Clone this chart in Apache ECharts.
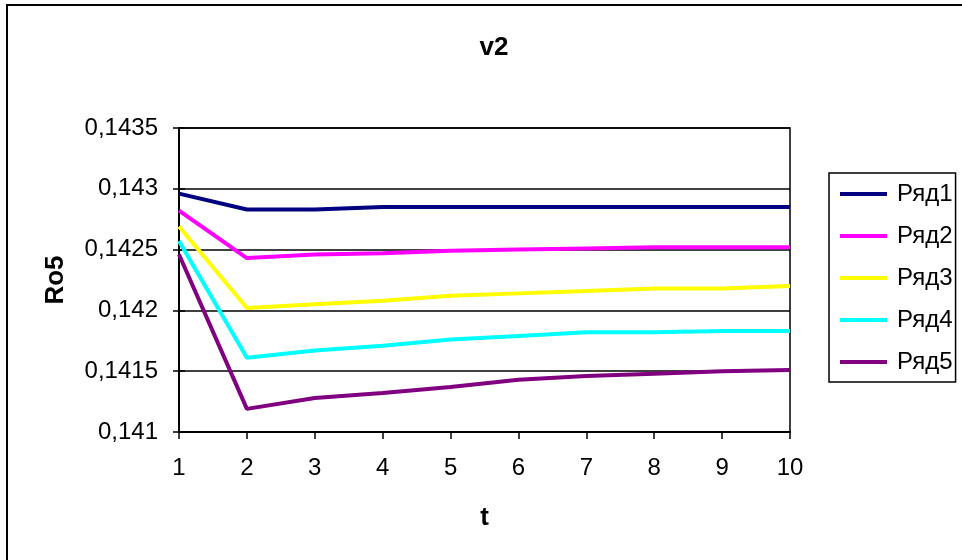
<!DOCTYPE html>
<html>
<head>
<meta charset="utf-8">
<script src="https://cdn.jsdelivr.net/npm/echarts@6/dist/echarts.min.js"></script>
<style>
html,body{margin:0;padding:0;background:#fff;}
#c{width:962px;height:560px;}
</style>
</head>
<body>
<div id="c"></div>
<script>
const categories = ['1','2','3','4','5','6','7','8','9','10'];
const seriesNames = ['Ряд1','Ряд2','Ряд3','Ряд4','Ряд5'];
const ryad1 = [0.14296,0.14283,0.14283,0.14285,0.14285,0.14285,0.14285,0.14285,0.14285,0.14285];
const ryad2 = [0.14282,0.14243,0.14246,0.14247,0.14249,0.14250,0.14251,0.14252,0.14252,0.14252];
const ryad3 = [0.14269,0.14202,0.14205,0.14208,0.14212,0.14214,0.14216,0.14218,0.14218,0.14220];
const ryad4 = [0.14257,0.14161,0.14167,0.14171,0.14176,0.14179,0.14182,0.14182,0.14183,0.14183];
const ryad5 = [0.14246,0.14119,0.14128,0.14132,0.14137,0.14143,0.14146,0.14148,0.14150,0.14151];
const colors = ['#000080','#FF00FF','#FFFF00','#00FFFF','#800080'];
const allData = [ryad1,ryad2,ryad3,ryad4,ryad5];

const FONT = '"Liberation Sans", Arial, sans-serif';
const chart = echarts.init(document.getElementById('c'), null, {renderer:'canvas'});
const fmt = v => parseFloat(v.toFixed(4)).toString().replace('.', ',');

chart.setOption({
  animation:false,
  backgroundColor:'#fff',
  color: colors,
  textStyle:{fontFamily:FONT},
  title:{
    text:'v2', left:489, top:30, textAlign:'center',
    textStyle:{fontFamily:FONT,fontSize:26,fontWeight:'bold',color:'#000'}
  },
  legend:{
    orient:'vertical', left:829, top:173,
    padding:[9,3,8,11],
    borderColor:'#000', borderWidth:1.5,
    itemWidth:47, itemHeight:4, itemGap:18,
    icon:'rect',
    textStyle:{fontFamily:FONT,fontSize:24,color:'#000',lineHeight:24,padding:[0,0,0,5]},
    data: seriesNames
  },
  grid:{left:179,right:172,top:128,bottom:128,show:true,borderColor:'#000',borderWidth:1.5,backgroundColor:'transparent'},
  xAxis:{
    type:'category', data:categories, boundaryGap:false,
    name:'t', nameLocation:'middle', nameGap:73,
    nameTextStyle:{fontFamily:FONT,fontSize:26,fontWeight:'bold',color:'#000'},
    axisLine:{lineStyle:{color:'#000',width:2}},
    axisTick:{show:true,length:7,lineStyle:{color:'#000',width:1.5},alignWithLabel:true},
    axisLabel:{fontFamily:FONT,fontSize:24,color:'#000',margin:24},
    splitLine:{show:false}
  },
  yAxis:[{
    type:'value', min:0.141, max:0.1435, interval:0.0005,
    name:'Ro5', nameLocation:'middle', nameGap:110, nameRotate:90,
    nameTextStyle:{fontFamily:FONT,fontSize:26,fontWeight:'bold',color:'#000'},
    axisLine:{show:true,lineStyle:{color:'#000',width:2}},
    axisTick:{show:true,length:6,lineStyle:{color:'#000',width:1.5}},
    axisLabel:{fontFamily:FONT,fontSize:24,color:'#000',margin:21,formatter:fmt},
    splitLine:{show:true,lineStyle:{color:'#000',width:1.5}}
  },{
    type:'value', min:0.141, max:0.1435, interval:0.0005, position:'left',
    axisLine:{show:false},
    axisTick:{show:true,inside:true,length:6,lineStyle:{color:'#000',width:1.5}},
    axisLabel:{show:false},
    splitLine:{show:false}
  }],
  graphic:[{
    type:'rect', silent:true, z:-1,
    shape:{x:7,y:5,width:1000,height:600},
    style:{fill:null,stroke:'#000',lineWidth:2}
  }],
  series: allData.map((d,i)=>({
    name:seriesNames[i], type:'line', data:d, yAxisIndex:0,
    showSymbol:false, symbol:'none',
    lineStyle:{width:4,color:colors[i]},
    itemStyle:{color:colors[i]}
  }))
});
</script>
</body>
</html>
